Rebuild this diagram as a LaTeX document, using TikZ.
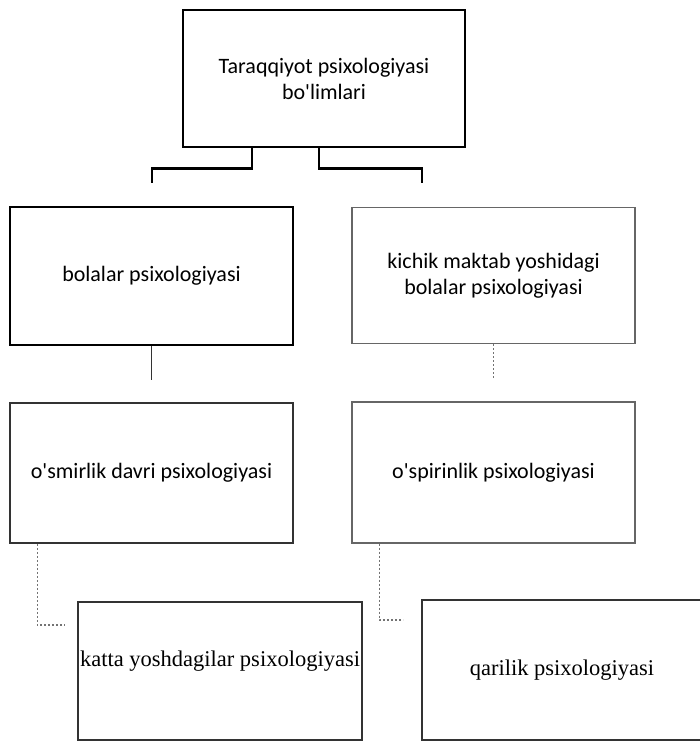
\documentclass[tikz,border=0pt]{standalone}
\usepackage{fontspec}
\setmainfont{Carlito}[Ligatures=TeXOff]
\newfontfamily\serifface{Liberation Serif}[Ligatures=TeXOff]
\begin{document}
\begin{tikzpicture}[x=1pt,y=-1pt,
  box/.style={rectangle, inner sep=0pt, align=center, font=\fontsize{22}{26}\selectfont},
  strongbox/.style={box, draw=black, line width=2.6pt},
  midbox/.style={box, draw=black!80, line width=1.8pt},
  faintbox/.style={box, draw=black!60, line width=1.4pt},
  serifbox/.style={font=\serifface\fontsize{22.5}{26}\selectfont},
  strongconn/.style={draw=black, line width=2.4pt},
  midconn/.style={draw=black!80, line width=1.8pt},
  faintconn/.style={draw=black!55, line width=1.1pt, dash pattern=on 2pt off 2pt}
]
\useasboundingbox (0,0) rectangle (700,742);

\node[strongbox, minimum width=282, minimum height=137] (top) at (324,78.5)
  {Taraqqiyot psixologiyasi\\bo'limlari};
\node[strongbox, minimum width=283, minimum height=138] (bolalar) at (151.5,276)
  {bolalar psixologiyasi};
\node[faintbox, minimum width=283, minimum height=136] (kichik) at (493.5,275.5)
  {kichik maktab yoshidagi\\bolalar psixologiyasi};
\node[midbox, minimum width=283, minimum height=140] (osmir) at (151.5,473)
  {o'smirlik davri psixologiyasi};
\node[faintbox, minimum width=283, minimum height=141] (ospir) at (493.5,472.5)
  {o'spirinlik psixologiyasi};
\node[midbox, serifbox, minimum width=284, minimum height=138] (katta) at (220,671)
  {\raisebox{24pt}{katta yoshdagilar psixologiyasi}};
\node[midbox, serifbox, minimum width=280, minimum height=140] (qarilik) at (562,670)
  {qarilik psixologiyasi};

\coordinate (e1) at (152,183);
\coordinate (e2) at (422,183);
\coordinate (e3) at (151.5,380);
\coordinate (e4) at (493.5,380);
\coordinate (e5) at (65,625);
\coordinate (e6) at (403,620);

\draw[strongconn] ([xshift=70pt]top.south west) -- ++(0,20) -| (e1);
\draw[strongconn] ([xshift=137pt]top.south west) -- ++(0,20) -| (e2);
\draw[midconn] (bolalar.south) -- (e3);
\draw[faintconn] (kichik.south) -- (e4);
\draw[faintconn] ([xshift=28pt]osmir.south west) |- (e5);
\draw[faintconn] ([xshift=28pt]ospir.south west) |- (e6);
\end{tikzpicture}
\end{document}
